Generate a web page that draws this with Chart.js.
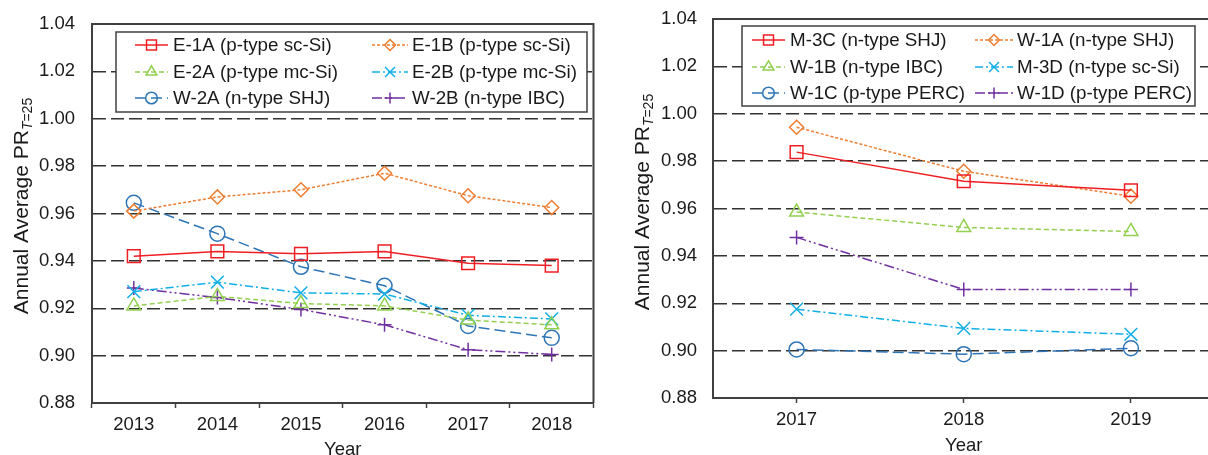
<!DOCTYPE html>
<html>
<head>
<meta charset="utf-8">
<script src="https://cdn.jsdelivr.net/npm/chart.js@4/dist/chart.umd.min.js"></script>
<style>
  body { margin: 0; background: #fff; overflow: hidden; }
  #wrap { position: relative; width: 1208px; height: 455px; overflow: hidden; background: #fff; }
  canvas { position: absolute; top: 0; }
</style>
</head>
<body>
<div id="wrap">
  <canvas id="left" width="604" height="470" style="left:0"></canvas>
  <canvas id="right" width="605" height="470" style="left:620px"></canvas>
</div>
<script>
// ---- data ----
const yearsA = ['2013', '2014', '2015', '2016', '2017', '2018'];
const e1a = [0.942, 0.944, 0.943, 0.944, 0.939, 0.938];
const e1b = [0.961, 0.967, 0.970, 0.977, 0.9675, 0.9625];
const e2a = [0.921, 0.925, 0.922, 0.921, 0.915, 0.913];
const e2b = [0.927, 0.931, 0.9265, 0.926, 0.917, 0.9155];
const w2a = [0.9645, 0.9515, 0.9375, 0.9295, 0.9125, 0.9075];
const w2b = [0.9285, 0.9245, 0.9195, 0.913, 0.9025, 0.9005];

const yearsB = ['2017', '2018', '2019'];
const m3c = [0.9838, 0.9715, 0.9677];
const w1a = [0.9943, 0.9757, 0.9652];
const w1b = [0.9585, 0.952, 0.9503];
const m3d = [0.9175, 0.9094, 0.9069];
const w1c = [0.9005, 0.8985, 0.901];
const w1d = [0.9478, 0.9258, 0.9258];

const yMin = 0.88;
const yMax = 1.04;
const yStep = 0.02;

const FONT = '"Liberation Sans", Arial, sans-serif';
const AXIS = '#404040';
const TEXT = '#1a1a1a';
const TICK_SIZE = 18.5;
const LEGEND_SIZE = 18.8;

// line / marker looks per series kind
const looks = {
  red:    { color: '#f01e23', style: 'rect',     r: 9,   dash: [] },
  orange: { color: '#ed7d31', style: 'rectRot',  r: 7,   dash: [3, 2] },
  green:  { color: '#92d050', style: 'triangle', r: 8,   dash: [5, 3] },
  cyan:   { color: '#12aee8', style: 'crossRot', r: 9,   dash: [8, 3, 2, 3] },
  blue:   { color: '#2e75b6', style: 'circle',   r: 7.5, dash: [11, 5] },
  purple: { color: '#7030a0', style: 'cross',    r: 7,   dash: [10, 3, 2, 3, 2, 3] }
};

function makeSet(label, data, kind) {
  const lk = looks[kind];
  return {
    label: label,
    data: data,
    borderColor: lk.color,
    backgroundColor: 'rgba(0,0,0,0)',
    borderWidth: 1.5,
    borderDash: lk.dash,
    pointStyle: lk.style,
    pointRadius: lk.r,
    pointBorderWidth: 1.5,
    pointBorderColor: lk.color,
    pointBackgroundColor: 'rgba(0,0,0,0)',
    tension: 0,
    marker: lk.style,
    markerR: lk.r
  };
}

function drawMarker(ctx, style, x, y, r) {
  ctx.beginPath();
  if (style === 'rect') {
    const s = r * Math.SQRT1_2;
    ctx.rect(x - s, y - s, 2 * s, 2 * s);
  } else if (style === 'rectRot') {
    ctx.moveTo(x, y - r); ctx.lineTo(x + r, y); ctx.lineTo(x, y + r); ctx.lineTo(x - r, y); ctx.closePath();
  } else if (style === 'triangle') {
    const a = 2 * Math.PI / 3;
    ctx.moveTo(x, y - r);
    ctx.lineTo(x + Math.sin(a) * r, y - Math.cos(a) * r);
    ctx.lineTo(x - Math.sin(a) * r, y - Math.cos(a) * r);
    ctx.closePath();
  } else if (style === 'circle') {
    ctx.arc(x, y, r, 0, Math.PI * 2);
  } else if (style === 'crossRot') {
    const s = r * Math.SQRT1_2;
    ctx.moveTo(x - s, y - s); ctx.lineTo(x + s, y + s);
    ctx.moveTo(x + s, y - s); ctx.lineTo(x - s, y + s);
  } else if (style === 'cross') {
    ctx.moveTo(x, y - r); ctx.lineTo(x, y + r);
    ctx.moveTo(x - r, y); ctx.lineTo(x + r, y);
  }
  ctx.stroke();
}

// frame, boxed legend and the y title with a subscript
const deco = {
  id: 'deco',
  afterDatasetsDraw(chart, args, opts) {
    const ctx = chart.ctx;
    const area = chart.chartArea;
    ctx.save();
    // frame
    ctx.strokeStyle = AXIS;
    ctx.lineWidth = 2;
    ctx.setLineDash([]);
    ctx.beginPath();
    ctx.moveTo(area.left, area.top);
    ctx.lineTo(area.right, area.top);
    ctx.lineTo(area.right, area.bottom);
    ctx.stroke();

    // legend
    const lg = opts.legend;
    ctx.fillStyle = '#fff';
    ctx.fillRect(lg.x, lg.y, lg.w, lg.h);
    ctx.strokeStyle = AXIS;
    ctx.lineWidth = 1.5;
    ctx.strokeRect(lg.x, lg.y, lg.w, lg.h);
    ctx.font = LEGEND_SIZE + 'px ' + FONT;
    ctx.textBaseline = 'middle';
    ctx.textAlign = 'left';
    chart.data.datasets.forEach((ds, i) => {
      const col = lg.cols[i % 2];
      const y = lg.rows[Math.floor(i / 2)];
      ctx.strokeStyle = ds.borderColor;
      ctx.lineWidth = 1.5;
      ctx.setLineDash(ds.borderDash);
      ctx.beginPath();
      ctx.moveTo(col.x1, y);
      ctx.lineTo(col.x2, y);
      ctx.stroke();
      ctx.setLineDash([]);
      drawMarker(ctx, ds.marker, (col.x1 + col.x2) / 2, y, ds.markerR * 0.78);
      ctx.fillStyle = TEXT;
      ctx.fillText(ds.label, col.tx, y + 1);
    });

    // y title: Annual Average PR with T=25 subscript
    const t = opts.ytitle;
    ctx.translate(t.x, t.y);
    ctx.rotate(-Math.PI / 2);
    ctx.fillStyle = TEXT;
    ctx.textBaseline = 'alphabetic';
    const main = 'Annual Average PR';
    const big = '21px ' + FONT;
    const subI = 'italic 14px ' + FONT;
    const sub = '14px ' + FONT;
    ctx.font = big; const w1 = ctx.measureText(main).width;
    ctx.font = subI; const w2 = ctx.measureText('T').width;
    ctx.font = sub; const w3 = ctx.measureText('=25').width;
    let x = -(w1 + w2 + w3) / 2;
    ctx.font = big; ctx.fillText(main, x, 0); x += w1;
    ctx.font = subI; ctx.fillText('T', x, 4); x += w2;
    ctx.font = sub; ctx.fillText('=25', x, 4);
    ctx.restore();
  }
};

function edgeTick(v) {
  return Math.abs(v - yMin) < 1e-6 || Math.abs(v - yMax) < 1e-6;
}

function buildChart(id, labels, datasets, lay) {
  return new Chart(document.getElementById(id), {
    type: 'line',
    data: { labels: labels, datasets: datasets },
    plugins: [deco],
    options: {
      responsive: false,
      animation: false,
      devicePixelRatio: 1,
      layout: { padding: { left: 0, right: 5, top: lay.top, bottom: 0 } },
      plugins: {
        legend: { display: false },
        tooltip: { enabled: false },
        deco: { legend: lay.legend, ytitle: lay.ytitle }
      },
      scales: {
        x: {
          type: 'category',
          offset: true,
          afterFit: (s) => { s.height = lay.xHeight; },
          grid: {
            offset: lay.gridOffset,
            drawOnChartArea: false,
            drawTicks: true,
            tickLength: 5,
            tickColor: AXIS,
            tickWidth: 1.5
          },
          border: { display: true, color: AXIS, width: 2 },
          ticks: { color: TEXT, font: { size: TICK_SIZE, family: FONT }, padding: 6, maxRotation: 0 },
          title: {
            display: true, text: 'Year', color: TEXT,
            font: { size: TICK_SIZE, family: FONT },
            padding: { top: 0, bottom: lay.titlePad }
          }
        },
        y: {
          min: yMin,
          max: yMax,
          afterFit: (s) => { s.width = lay.yWidth; },
          ticks: {
            stepSize: yStep,
            color: TEXT,
            font: { size: TICK_SIZE, family: FONT },
            padding: 0,
            callback: (v) => Number(v).toFixed(2)
          },
          grid: {
            drawTicks: true,
            tickLength: lay.yGap,
            tickColor: 'rgba(0,0,0,0)',
            lineWidth: 1.4,
            color: (c) => (c.tick && edgeTick(c.tick.value)) ? 'rgba(0,0,0,0)' : '#333'
          },
          border: { display: true, color: AXIS, width: 2, dash: [13, 5] }
        }
      }
    }
  });
}

buildChart('left', yearsA, [
  makeSet('E-1A (p-type sc-Si)', e1a, 'red'),
  makeSet('E-1B (p-type sc-Si)', e1b, 'orange'),
  makeSet('E-2A (p-type mc-Si)', e2a, 'green'),
  makeSet('E-2B (p-type mc-Si)', e2b, 'cyan'),
  makeSet('W-2A (n-type SHJ)', w2a, 'blue'),
  makeSet('W-2B (n-type IBC)', w2b, 'purple')
], {
  top: 24, xHeight: 67, yWidth: 92, yGap: 17, titlePad: 9, gridOffset: true,
  legend: {
    x: 116, y: 32, w: 471, h: 80,
    rows: [45, 72, 98],
    cols: [{ x1: 135, x2: 168, tx: 173 }, { x1: 372, x2: 408, tx: 412 }]
  },
  ytitle: { x: 28, y: 206 }
});

buildChart('right', yearsB, [
  makeSet('M-3C (n-type SHJ)', m3c, 'red'),
  makeSet('W-1A (n-type SHJ)', w1a, 'orange'),
  makeSet('W-1B (n-type IBC)', w1b, 'green'),
  makeSet('M-3D (n-type sc-Si)', m3d, 'cyan'),
  makeSet('W-1C (p-type PERC)', w1c, 'blue'),
  makeSet('W-1D (p-type PERC)', w1d, 'purple')
], {
  top: 19, xHeight: 72, yWidth: 93, yGap: 16, titlePad: 13, gridOffset: false,
  legend: {
    x: 122, y: 26, w: 453, h: 80,
    rows: [40, 67, 93],
    cols: [{ x1: 132, x2: 165, tx: 170 }, { x1: 355, x2: 393, tx: 397 }]
  },
  ytitle: { x: 29, y: 202 }
});
</script>
</body>
</html>
